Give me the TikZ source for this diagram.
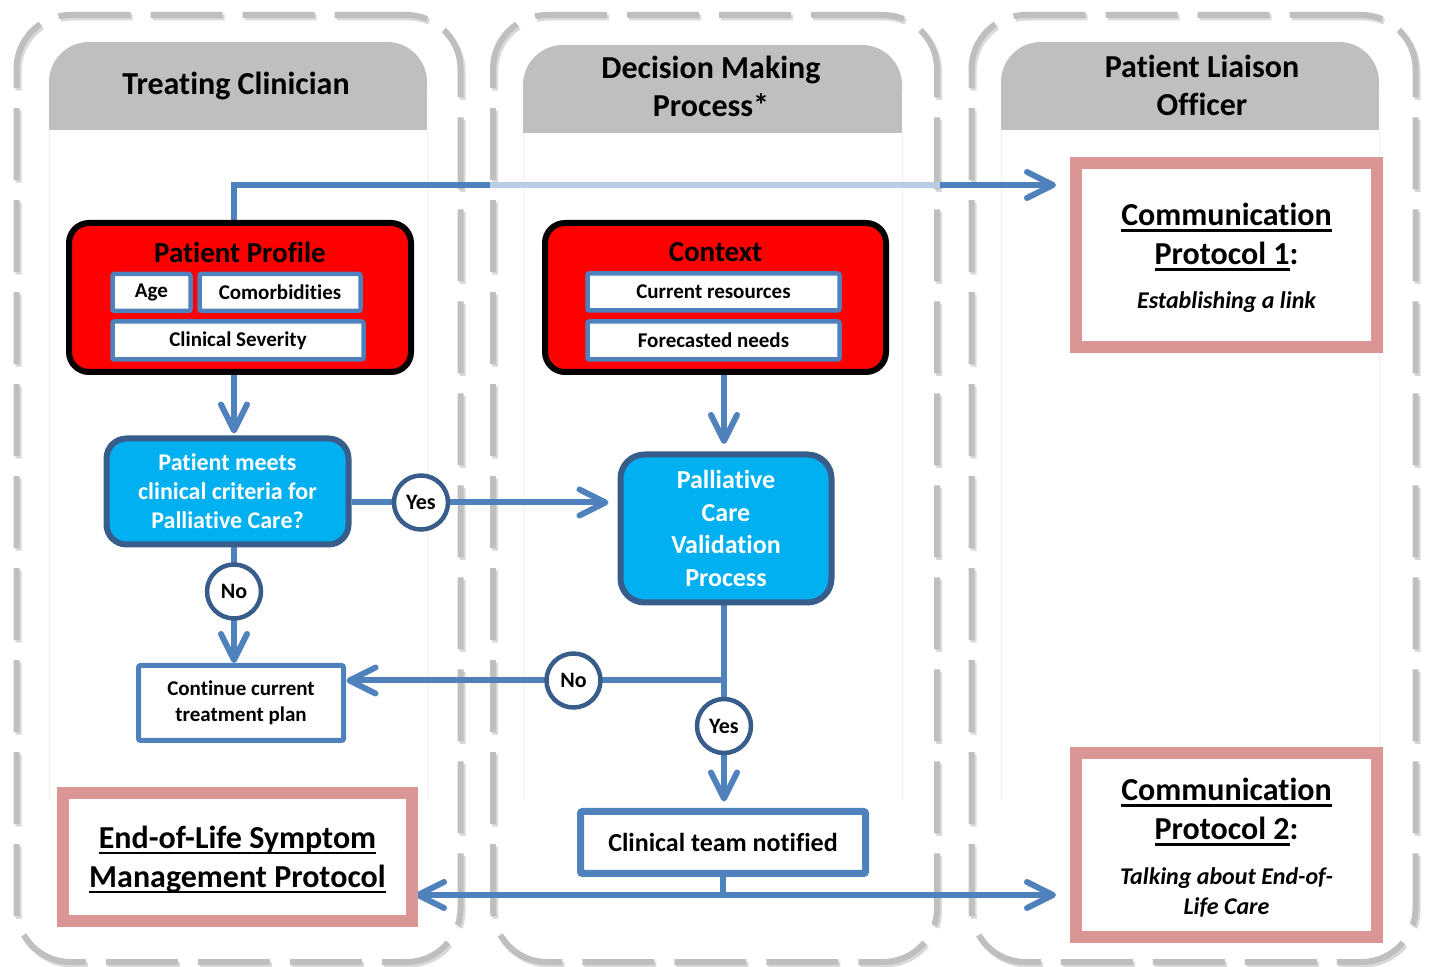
\documentclass[tikz,border=0pt]{standalone}
\usepackage{fontspec}
\setmainfont{Carlito}[Ligatures=NoCommon]
\usetikzlibrary{arrows.meta,positioning,calc,backgrounds}
\definecolor{linkblue}{RGB}{79,129,189}
\definecolor{paleblue}{RGB}{185,205,229}
\definecolor{navyedge}{RGB}{56,93,138}
\definecolor{boxcyan}{RGB}{0,176,240}
\definecolor{lanegray}{RGB}{191,191,191}
\definecolor{rosered}{RGB}{217,150,148}
\newcommand{\fsz}[2]{\fontsize{#1}{#2}\selectfont}
\newlength{\ulwd}
\newcommand{\ulw}[1]{\settowidth{\ulwd}{#1}\rlap{\rule[-2.9pt]{\ulwd}{1.1pt}}#1}

\begin{document}
\begin{tikzpicture}[x=0.5pt,y=-0.5pt,
  lane/.style={draw=lanegray,line width=3pt,dash pattern=on 36pt off 10pt,rounded corners=27pt,
    minimum width=222pt,minimum height=473.5pt,inner sep=0pt},
  laneshade/.style={lane,draw=black,opacity=.15},
  body/.style={draw=black!6,line width=.5pt},
  hdr/.style={align=center,font=\bfseries\fsz{16}{19}},
  redbox/.style={draw=black,line width=3pt,fill=red,rounded corners=10pt,
    minimum width=171pt,minimum height=74.5pt},
  redttl/.style={font=\bfseries\fsz{14.5}{17}},
  inbox/.style={draw=linkblue,line width=2.25pt,fill=white,rounded corners=1pt,inner sep=0pt,
    minimum height=18.5pt,font=\bfseries\fsz{10.5}{12.5}},
  cyanbox/.style={draw=navyedge,line width=3pt,fill=boxcyan,text=white,align=center,inner sep=0pt},
  choice/.style={circle,draw=navyedge,line width=2.25pt,fill=white,minimum size=27pt,inner sep=0pt,
    font=\bfseries\fsz{11}{13}},
  planbox/.style={draw=linkblue,fill=white,align=center,rounded corners=1pt,inner sep=0pt},
  protbox/.style={draw=rosered,line width=6pt,fill=white,minimum width=150.5pt,minimum height=92pt},
  ptitle/.style={align=center,font=\bfseries\fsz{16}{19.5}},
  psub/.style={align=center,font=\bfseries\itshape\fsz{12}{15}},
  line/.style={draw=linkblue,line width=3pt},
  arr/.style={line,-{Straight Barb[length=13pt,width=13pt,round]}},
  arrs/.style={line,{Straight Barb[length=13pt,width=13pt,round]}-{Straight Barb[length=13pt,width=13pt,round]}}]
\useasboundingbox (0,0) rectangle (1431,967);

\node[redbox] (pp) at (240,297.5) {};
\node[redttl] (ppname) at (240,252) {Patient Profile};
\node[inbox,minimum width=39pt] (age) at (151.5,292.5) {Age};
\node[inbox,minimum width=80.5pt] (comorb) at (280,292.5) {Comorbidities};
\node[inbox,minimum width=125.5pt,minimum height=19pt] (sev) at (238,340.5) {Clinical Severity};

\node[redbox,minimum width=170.5pt] (ctx) at (715.5,297.5) {};
\node[redttl] (ctxname) at (715.5,252) {Context};
\node[inbox,minimum width=126pt] (res) at (713.5,292) {Current resources};
\node[inbox,minimum width=126pt,minimum height=19pt] (need) at (713.5,340.5) {Forecasted needs};

\node[cyanbox,rounded corners=10pt,minimum width=121pt,minimum height=53pt,
  font=\bfseries\fsz{12}{14.5}] (crit) at (227.5,491.5) {Patient meets\\clinical criteria for\\Palliative Care?};
\node[cyanbox,rounded corners=12pt,minimum width=105.5pt,minimum height=74pt,
  font=\bfseries\fsz{13}{16.4}] (valid) at (726,528.5) {Palliative\\Care\\Validation\\Process};

\node[choice] (yes1) at (421,502.5) {Yes};
\node[choice] (no1) at (234,591.5) {No};
\node[choice] (no2) at (573.5,680.5) {No};
\node[choice] (yes2) at (724,726) {Yes};

\node[planbox,line width=2.5pt,minimum width=102.5pt,minimum height=37.5pt,
  font=\bfseries\fsz{10.5}{13}] (cont) at (241,703) {Continue current\\treatment plan};
\node[planbox,line width=3.5pt,minimum width=142.5pt,minimum height=31pt,
  font=\bfseries\fsz{13}{15}] (note) at (723,842.5) {Clinical team notified};

\node[protbox] (com1) at (1226.5,255) {};
\node[ptitle] (com1name) at (1226.5,237) {\ulw{Communication}\\\ulw{Protocol 1}:};
\node[psub] (com1sub) at (1226.5,302) {Establishing a link};
\node[protbox] (com2) at (1226.5,845) {};
\node[ptitle] (com2name) at (1226.5,812) {\ulw{Communication}\\\ulw{Protocol 2}:};
\node[psub] (com2sub) at (1226.5,892) {Talking about End-of-\\Life Care};
\node[protbox,minimum width=174.5pt,minimum height=64pt] (eol) at (237.5,857) {};
\node[ptitle] (eolname) at (237.5,859.5) {\ulw{End-of-Life Symptom}\\\ulw{Management Protocol}};

\coordinate (hi) at (0,185);
\coordinate (lo) at (0,895);

\begin{scope}[on background layer]
\node[laneshade] at (240.5,491) {};
\node[laneshade] at (717,491) {};
\node[laneshade] at (1195.5,491) {};
\node[lane] (l1) at (238.5,488.5) {};
\node[lane] (l2) at (715,488.5) {};
\node[lane] (l3) at (1193.5,488.5) {};
\draw[body] (49,800) -- (49,130) (427,130) -- (427,800);
\draw[body] (523,800) -- (523,133) (902,133) -- (902,800);
\draw[body] (1001,800) -- (1001,130) (1379,130) -- (1379,800);
\fill[lanegray,rounded corners=20pt] (49,42) rectangle (427,130);
\fill[lanegray] (49,90) rectangle (427,130);
\fill[lanegray,rounded corners=20pt] (523,45) rectangle (902,133);
\fill[lanegray] (523,93) rectangle (902,133);
\fill[lanegray,rounded corners=20pt] (1001,42) rectangle (1379,130);
\fill[lanegray] (1001,90) rectangle (1379,130);
\node[hdr] (h1) at (236,86) {Treating Clinician};
\node[hdr] (h2) at (711,86) {Decision Making\\Process*};
\node[hdr] (h3) at (1202,85) {Patient Liaison\\Officer};

\draw[arr,shorten >=7pt] (pp.north -| no1) |- (com1.west |- hi);
\draw[line,draw=paleblue] (l2.west |- hi) -- (l2.east |- hi);
\draw[arr,shorten >=1pt] (pp.south -| no1) -- (no1 |- crit.north);
\draw[arr,shorten >=4.5pt] (crit.east |- yes1) -- (yes1 -| valid.west);
\draw[arr,shorten >=0pt] (crit.south -| no1) -- (no1 |- cont.north);
\draw[arr,shorten >=3.75pt] (ctx.south -| yes2) -- (yes2 |- valid.north);
\draw[arr,shorten >=3.25pt] (valid.south -| yes2) -- (yes2 |- note.north);
\draw[arr,shorten >=0.25pt] (yes2 |- no2) -- (no2 -| cont.east);
\draw[line] (note.south) -- (note.south |- lo);
\draw[arrs,shorten <=-1.5pt,shorten >=7pt] (eol.east |- lo) -- (com2.west |- lo);
\end{scope}
\end{tikzpicture}
\end{document}
